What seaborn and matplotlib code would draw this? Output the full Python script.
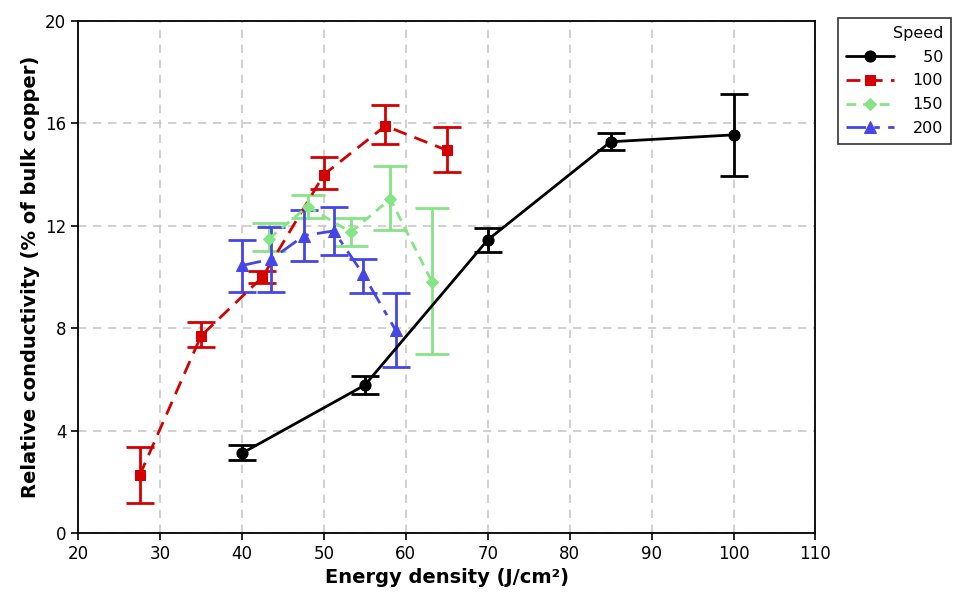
import numpy as np
import pandas as pd
import seaborn as sns
import matplotlib
matplotlib.use('Agg')
import matplotlib.pyplot as plt

# x, y, lower/upper end of the error bar
speed_labels = ['50', '100', '150', '200']

x_50 = [40, 55, 70, 85, 100]
y_50 = [3.12, 5.78, 11.45, 15.28, 15.55]
lo_50 = [2.85, 5.45, 10.98, 14.96, 13.95]
hi_50 = [3.45, 6.15, 11.92, 15.62, 17.15]

x_100 = [27.5, 35, 42.5, 50, 57.5, 65]
y_100 = [2.25, 7.7, 10.0, 14.0, 15.9, 14.95]
lo_100 = [1.18, 7.25, 9.75, 13.42, 15.2, 14.1]
hi_100 = [3.35, 8.25, 10.25, 14.68, 16.7, 15.85]

x_150 = [43.3, 48.0, 53.3, 58.1, 63.2]
y_150 = [11.5, 12.75, 11.75, 13.05, 9.8]
lo_150 = [11.0, 12.3, 11.2, 11.85, 7.0]
hi_150 = [12.1, 13.2, 12.3, 14.35, 12.7]

x_200 = [40, 43.6, 47.6, 51.2, 54.8, 58.75]
y_200 = [10.45, 10.7, 11.62, 11.8, 10.1, 7.93]
lo_200 = [9.4, 9.43, 10.63, 10.86, 9.39, 6.47]
hi_200 = [11.45, 11.95, 12.6, 12.72, 10.72, 9.39]

sns.set_theme(style='white')
plt.rcParams['font.family'] = ['DejaVu Sans']
plt.rcParams['text.color'] = 'black'
plt.rcParams['axes.labelcolor'] = 'black'
plt.rcParams['xtick.color'] = 'black'
plt.rcParams['ytick.color'] = 'black'

fig = plt.figure(figsize=(9.65, 5.97), dpi=100)
ax = fig.add_axes([0.081, 0.107, 0.764, 0.858])

series = [
    (x_100, y_100, lo_100, hi_100, '#d40000', 's', 7.5, (5, 3), 10),
    (x_150, y_150, lo_150, hi_150, '#86e486', 'D', 6.5, (3.5, 2.5), 12),
    (x_200, y_200, lo_200, hi_200, '#4646e6', '^', 8.5, (7, 3, 2, 3), 10),
    (x_50, y_50, lo_50, hi_50, '#000000', 'o', 8, '', 10),
]
labels = ['100', '150', '200', '50']

handles = {}
for (xs, ys, lo, hi, col, mk, ms, dash, cap), lab in zip(series, labels):
    df = pd.DataFrame({'x': xs, 'y': ys})
    sns.lineplot(data=df, x='x', y='y', ax=ax, color=col, marker=mk,
                 markersize=ms, markeredgecolor=col, linewidth=2,
                 label=lab, zorder=3)
    line = ax.get_lines()[-1]
    if dash:
        line.set_dashes(dash)
    else:
        line.set_linestyle('-')
    ys_a = np.array(ys)
    yerr = [ys_a - np.array(lo), np.array(hi) - ys_a]
    ax.errorbar(xs, ys, yerr=yerr, fmt='none', ecolor=col, elinewidth=2,
                capsize=cap, capthick=2, zorder=2)
    handles[lab] = line

ax.set_xlim(20, 110)
ax.set_ylim(0, 20)
ax.set_xticks(range(20, 111, 10))
ax.set_yticks(range(0, 21, 4))
ax.grid(True, color='#c8c8c8', linestyle=(0, (5, 4)), linewidth=1.2)
ax.set_axisbelow(True)
for sp in ax.spines.values():
    sp.set_color('black')
    sp.set_linewidth(1.3)
ax.tick_params(axis='both', which='both', direction='out', length=5,
               width=1.2, color='black', labelsize=12, bottom=True, left=True)
ax.set_xlabel('Energy density (J/cm²)', fontsize=14, fontweight='bold')
ax.set_ylabel('Relative conductivity (% of bulk copper)', fontsize=14,
              fontweight='bold')

ax.get_legend().remove()
fs = '\u2007'
leg_labels = [fs * (3 - len(s)) + s for s in speed_labels]
leg = fig.legend([handles[s] for s in speed_labels], leg_labels,
                 title='Speed', loc='upper left',
                 bbox_to_anchor=(0.868, 0.97), borderaxespad=0,
                 frameon=True, fancybox=False,
                 edgecolor='black', fontsize=11.5, title_fontsize=11.5,
                 alignment='right', handlelength=3.0, borderpad=0.5,
                 labelspacing=0.55, handletextpad=1.2)
leg.get_frame().set_linewidth(1.2)

fig.savefig('out.png', dpi=100, facecolor='white')
